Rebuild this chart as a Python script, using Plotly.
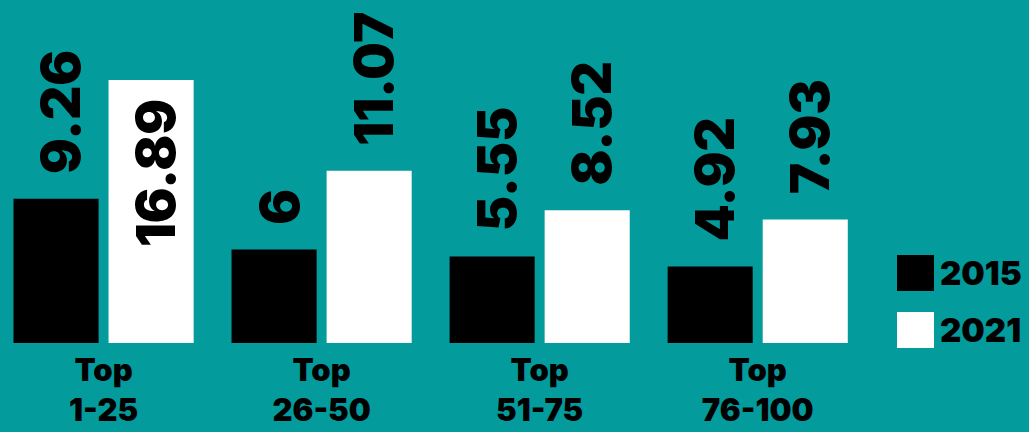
import plotly.graph_objects as go

categories = ["Top<br>1-25", "Top<br>26-50", "Top<br>51-75", "Top<br>76-100"]
series_names = ["2015", "2021"]
values_2015 = [9.26, 6, 5.55, 4.92]
values_2021 = [16.89, 11.07, 8.52, 7.93]
colors = ["#000000", "#FFFFFF"]
BG = "#039B9C"
FONT = "Inter"
WEIGHT = 900

W, H = 1029, 432
ML, MR, MT, MB = 0, 159, 0, 89
PW, PH = W - ML - MR, H - MT - MB

fig = go.Figure()
for name, vals, col in zip(series_names, [values_2015, values_2021], colors):
    fig.add_trace(go.Bar(x=categories, y=vals, name=name, marker=dict(color=col, line=dict(width=0)),
                         showlegend=False, hoverinfo="skip"))

# value labels (rotated)
for si, (vals, dx) in enumerate([(values_2015, -47.5), (values_2021, 47.5)]):
    for cat, v in zip(categories, vals):
        inside = (si == 1 and v == max(values_2021))
        fig.add_annotation(x=cat, y=v, xref="x", yref="y", text=f"{v:g}", showarrow=False,
                           textangle=-90, xshift=dx + 5,
                           yanchor="top" if inside else "bottom",
                           yshift=-17 if inside else 23,
                           font=dict(family=FONT, size=53, color="#000000", weight=WEIGHT))

# custom legend
def px_x(p):
    return (p - ML) / PW
def px_y(p):
    return (H - MB - p) / PH

for i, (name, col) in enumerate(zip(series_names, colors)):
    top = 255 + i * 57
    fig.add_shape(type="rect", xref="paper", yref="paper", x0=px_x(897), x1=px_x(934),
                  y0=px_y(top), y1=px_y(top + 36), fillcolor=col, line=dict(width=0))
    fig.add_annotation(xref="paper", yref="paper", x=px_x(938), y=px_y(top + 18), text=name,
                       showarrow=False, xanchor="left", yanchor="middle",
                       font=dict(family=FONT, size=33, color="#000000", weight=WEIGHT))

fig.update_layout(
    width=W, height=H,
    margin=dict(l=ML, r=MR, t=MT, b=MB, pad=0),
    paper_bgcolor=BG, plot_bgcolor=BG,
    barmode="group", bargap=0.128, bargroupgap=0.105,
    xaxis=dict(range=[-0.475, 3.515], showgrid=False, zeroline=False, showline=False, ticks="",
               tickfont=dict(family=FONT, size=31, color="#000000", weight=WEIGHT),
               ticklabelstandoff=6),
    yaxis=dict(range=[0, 22.03], visible=False),
)
fig.write_html("out.html", config={"displayModeBar": False},
               post_script="document.body.style.margin='0';document.body.style.background='" + BG + "';")
